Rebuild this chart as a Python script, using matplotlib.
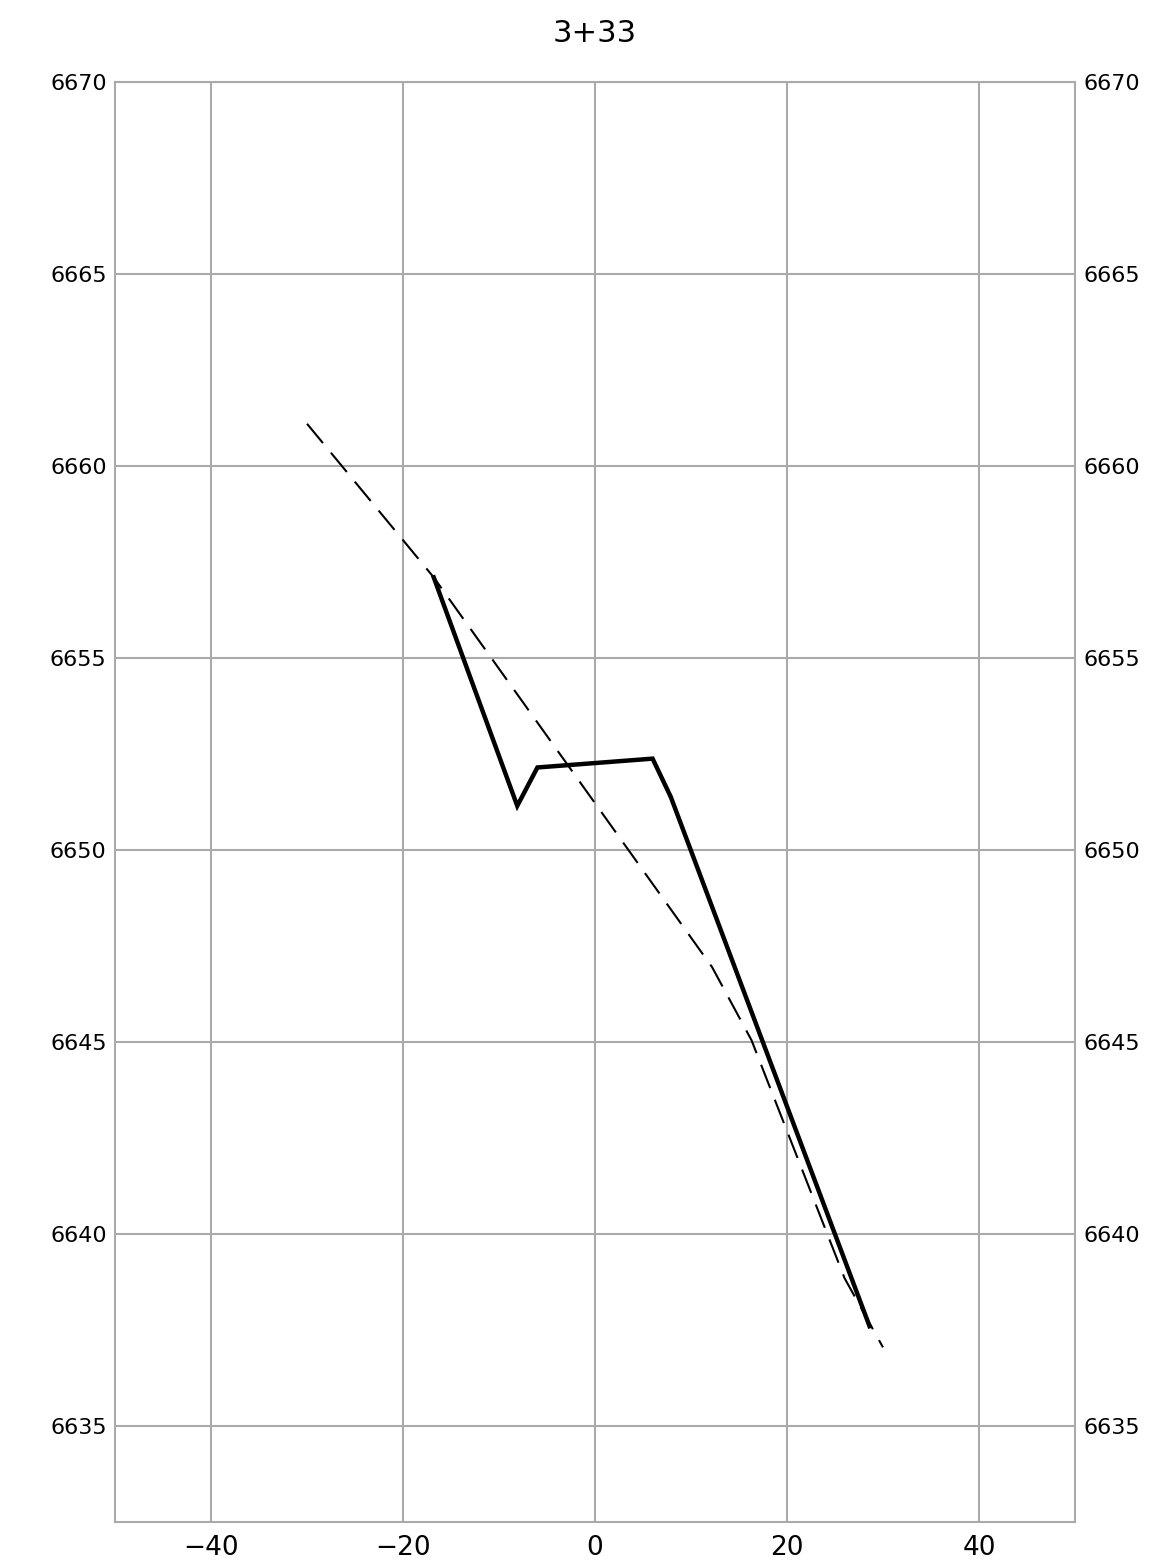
import matplotlib
matplotlib.use("Agg")
import matplotlib.pyplot as plt

title = "3+33"
design_x = [-16.8, -8.1, -6.0, 6.0, 7.9, 28.6]
design_y = [6657.1, 6651.15, 6652.15, 6652.38, 6651.38, 6637.6]
ground_x = [-30.0, -16.8, 12.2, 16.3, 26.0, 30.0]
ground_y = [6661.1, 6657.1, 6646.95, 6645.05, 6638.85, 6637.05]
x_ticks = [-40, -20, 0, 20, 40]
y_ticks = [6635, 6640, 6645, 6650, 6655, 6660, 6665, 6670]

fig = plt.figure(figsize=(11.54, 15.68), dpi=100)
ax = fig.add_axes([0.0997, 0.0293, 0.8318, 0.9184])
ax.set_xlim(-50, 50)
ax.set_ylim(6632.5, 6670)

ax.plot(ground_x, ground_y, color="black", lw=1.5, dashes=(12, 6), zorder=3)
ax.plot(design_x, design_y, color="black", lw=3.2, solid_joinstyle="miter", zorder=4)

ax.set_xticks(x_ticks)
ax.set_yticks(y_ticks)
ax.set_xticklabels([f"{v}".replace("-", "\u2212") for v in x_ticks], fontsize=19)
ax.set_yticklabels([str(v) for v in y_ticks], fontsize=16)
ax.tick_params(axis="y", which="both", length=0, pad=6, left=False, right=False,
               labelleft=True, labelright=True)
ax.tick_params(axis="x", length=0, pad=9)
ax.grid(True, color="#aaaaaa", lw=1.5)
ax.set_axisbelow(True)
for s in ax.spines.values():
    s.set_color("#aaaaaa")
    s.set_linewidth(1.5)

ax.set_title(title, fontsize=22, pad=29, color="black")
fig.savefig("out.png", dpi=100)
